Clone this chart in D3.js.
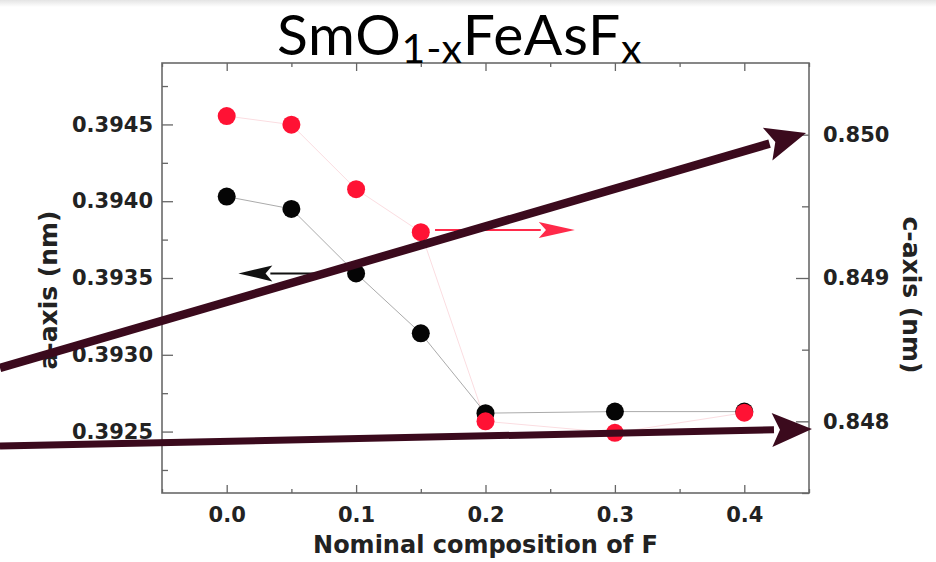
<!DOCTYPE html>
<html>
<head>
<meta charset="utf-8">
<script src="https://d3js.org/d3.v7.min.js"></script>
<style>
  body { margin: 0; background: #fff; }
  svg { display: block; }
  .axis text { font-family: 'DejaVu Sans', sans-serif; font-weight: bold; font-size: 21px; fill: #222; }
  .axis line { stroke: #666; stroke-width: 1.3; }
  .axis path { display: none; }
  .lbl { font-family: 'DejaVu Sans', sans-serif; font-weight: bold; fill: #222; }
</style>
</head>
<body>
<script>
// nominal F composition and lattice parameters (nm)
var comp  = [0.0, 0.05, 0.1, 0.15, 0.2, 0.3, 0.4];
var aAxis = [0.39403, 0.39395, 0.39353, 0.39314, 0.39262, 0.39263, 0.39263];
var cAxis = [0.85013, 0.85007, 0.84962, 0.84932, 0.84800, 0.84792, 0.84806];

var xTicks = [0.0, 0.1, 0.2, 0.3, 0.4],
    xMinor = [-0.05, 0.05, 0.15, 0.25, 0.35, 0.45],
    aTicks = [0.3925, 0.3930, 0.3935, 0.3940, 0.3945],
    aMinor = [0.39225, 0.39275, 0.39325, 0.39375, 0.39425, 0.39475],
    cTicks = [0.848, 0.849, 0.850],
    cMinor = [0.8475, 0.8485, 0.8495];

// small in-plot arrows: [x0, x1, y]  (a-axis one on left scale, c-axis one on right scale)
var aArrow = [0.072, 0.009, 0.39353];
var cArrow = [0.161, 0.269, 0.849335];
// slide annotation arrows: start / tip in (x, c-axis) units, stroke width
var bigArrows = [
  [[-0.1752, 0.848372], [0.4477, 0.850012], 8.5],
  [[-0.1752, 0.847828], [0.4523, 0.847946], 7]
];

var W = 936, H = 562,
    pL = 162, pR = 809, pT = 63, pB = 493;

var svg = d3.select("body").append("svg")
  .attr("width", W)
  .attr("height", H);

var grad = svg.append("defs").append("linearGradient")
  .attr("id", "band").attr("x1", 0).attr("y1", 0).attr("x2", 0).attr("y2", 1);
grad.append("stop").attr("offset", 0).attr("stop-color", "#e4e4e4");
grad.append("stop").attr("offset", 1).attr("stop-color", "#fff");
svg.append("rect").attr("width", W).attr("height", 7).attr("fill", "url(#band)");

var x  = d3.scaleLinear().domain([-0.05, 0.45]).range([pL, pR]);
var yA = d3.scaleLinear().domain([0.3921, 0.3949]).range([pB, pT]);
var yC = d3.scaleLinear().domain([0.8475, 0.8505]).range([pB, pT]);

// frame
svg.append("rect")
  .attr("x", pL).attr("y", pT)
  .attr("width", pR - pL).attr("height", pB - pT)
  .attr("fill", "none").attr("stroke", "#6a6a6a").attr("stroke-width", 1.6);

function ax(gen, tx, ty) {
  return svg.append("g").attr("class", "axis")
    .attr("transform", "translate(" + tx + "," + ty + ")").call(gen);
}

ax(d3.axisBottom(x).tickValues(xTicks).tickFormat(d3.format(".1f")).tickSize(-8).tickPadding(14), 0, pB);
ax(d3.axisBottom(x).tickValues(xMinor).tickFormat("").tickSize(-4), 0, pB);
ax(d3.axisTop(x).tickValues(xTicks).tickFormat("").tickSize(-8), 0, pT);
ax(d3.axisTop(x).tickValues(xMinor).tickFormat("").tickSize(-4), 0, pT);

ax(d3.axisLeft(yA).tickValues(aTicks).tickFormat(d3.format(".4f")).tickSize(-11).tickPadding(9), pL, 0);
ax(d3.axisLeft(yA).tickValues(aMinor).tickFormat("").tickSize(-6), pL, 0);

ax(d3.axisRight(yC).tickValues(cTicks).tickFormat(d3.format(".3f")).tickSize(-13).tickPadding(14), pR, 0);
ax(d3.axisRight(yC).tickValues(cMinor).tickFormat("").tickSize(-7), pR, 0);

// axis titles
svg.append("text").attr("class", "lbl")
  .attr("x", (pL + pR) / 2).attr("y", 553)
  .attr("text-anchor", "middle").attr("font-size", 24)
  .text("Nominal composition of F");

svg.append("text").attr("class", "lbl")
  .attr("transform", "translate(57,290) rotate(-90)")
  .attr("text-anchor", "middle").attr("font-size", 25)
  .text("a-axis (nm)");

svg.append("text").attr("class", "lbl")
  .attr("transform", "translate(903,295) rotate(90)")
  .attr("text-anchor", "middle").attr("font-size", 25)
  .text("c-axis (nm)");

// connecting lines
var rows = comp.map(function(d, i){ return {x: d, a: aAxis[i], c: cAxis[i]}; });

svg.append("path").datum(rows)
  .attr("fill", "none").attr("stroke", "#fbdde1").attr("stroke-width", 1)
  .attr("d", d3.line().x(function(d){ return x(d.x); }).y(function(d){ return yC(d.c); }));

svg.append("path").datum(rows)
  .attr("fill", "none").attr("stroke", "#ababab").attr("stroke-width", 1)
  .attr("d", d3.line().x(function(d){ return x(d.x); }).y(function(d){ return yA(d.a); }));

// markers
svg.append("g").selectAll("circle").data(rows).enter().append("circle")
  .attr("cx", function(d){ return x(d.x); })
  .attr("cy", function(d){ return yA(d.a); })
  .attr("r", 9).attr("fill", "#050505");

svg.append("g").selectAll("circle").data(rows).enter().append("circle")
  .attr("cx", function(d){ return x(d.x); })
  .attr("cy", function(d){ return yC(d.c); })
  .attr("r", 9).attr("fill", "#ff1234");

// arrow helper: line + triangular head
function arrow(x0, y0, x1, y1, col, w, hl, hw) {
  var dx = x1 - x0, dy = y1 - y0, len = Math.sqrt(dx*dx + dy*dy),
      ux = dx / len, uy = dy / len,
      bx = x1 - ux*hl, by = y1 - uy*hl;
  svg.append("line")
    .attr("x1", x0).attr("y1", y0).attr("x2", bx + ux*2).attr("y2", by + uy*2)
    .attr("stroke", col).attr("stroke-width", w);
  svg.append("path")
    .attr("d", "M" + x1 + "," + y1 +
               "L" + (bx - uy*hw) + "," + (by + ux*hw) +
               "L" + (bx + ux*hl*0.2) + "," + (by + uy*hl*0.2) +
               "L" + (bx + uy*hw) + "," + (by - ux*hw) + "Z")
    .attr("fill", col);
}

arrow(x(aArrow[0]), yA(aArrow[2]), x(aArrow[1]), yA(aArrow[2]), "#111", 2, 34, 8);
arrow(x(cArrow[0]), yC(cArrow[2]), x(cArrow[1]), yC(cArrow[2]), "#ff2a4a", 2, 36, 8);

// title
var title = svg.append("text")
  .attr("x", 277).attr("y", 55)
  .attr("font-family", "Lato, 'Open Sans', sans-serif")
  .attr("font-size", 57).attr("letter-spacing", 0.8).attr("fill", "#000");
title.append("tspan").text("SmO");
title.append("tspan").attr("font-size", 41).attr("dy", 8).text("1-x");
title.append("tspan").attr("dy", -8).text("FeAsF");
title.append("tspan").attr("font-size", 41).attr("dy", 8).text("x");

// slide annotation arrows
bigArrows.forEach(function(a){
  arrow(x(a[0][0]), yC(a[0][1]), x(a[1][0]), yC(a[1][1]), "#3b0a1d", a[2], 40, 17);
});
</script>
</body>
</html>
